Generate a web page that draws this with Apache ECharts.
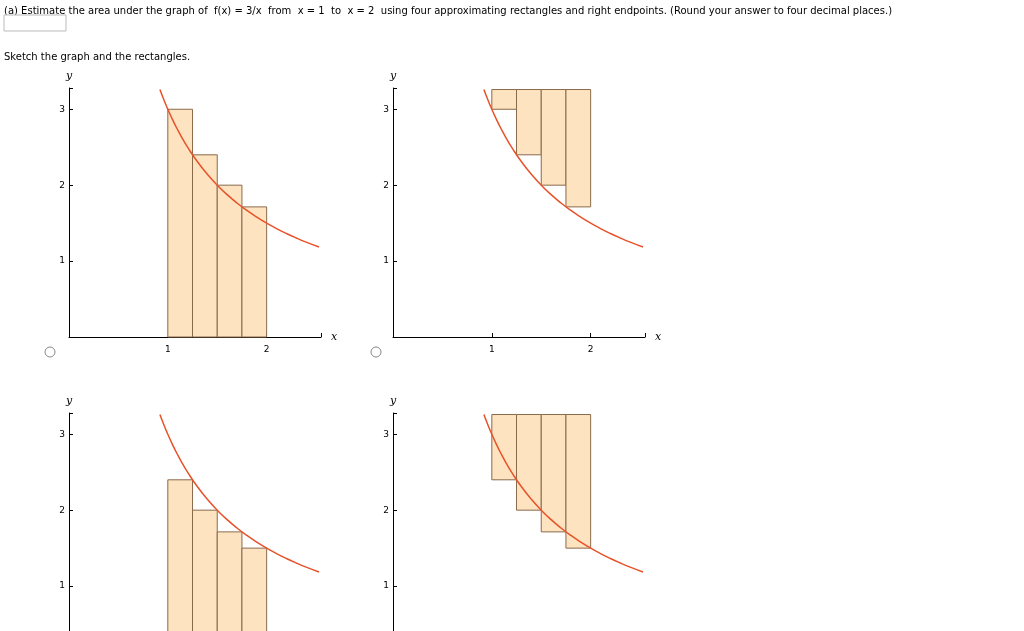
<!DOCTYPE html>
<html>
<head>
<meta charset="utf-8">
<script src="https://cdn.jsdelivr.net/npm/echarts@6/dist/echarts.min.js"></script>
<style>html,body{margin:0;padding:0;background:#fff}#c{width:1024px;height:631px}</style>
</head>
<body>
<div id="c"></div>
<script>
// panel data: [x0, x1, yBottom, yTop]
const rectsA = [[1, 1.25, 0, 3], [1.25, 1.5, 0, 2.4], [1.5, 1.75, 0, 2], [1.75, 2, 0, 1.714]];
const rectsB = [[1, 1.25, 3, 3.26], [1.25, 1.5, 2.4, 3.26], [1.5, 1.75, 2, 3.26], [1.75, 2, 1.714, 3.26]];
const rectsC = [[1, 1.25, 0, 2.4], [1.25, 1.5, 0, 2], [1.5, 1.75, 0, 1.714], [1.75, 2, 0, 1.5]];
const rectsD = [[1, 1.25, 2.4, 3.26], [1.25, 1.5, 2, 3.26], [1.5, 1.75, 1.714, 3.26], [1.75, 2, 1.5, 3.26]];
const curveX = [0.92, 0.95, 1, 1.05, 1.1, 1.15, 1.2, 1.3, 1.4, 1.5, 1.6, 1.7, 1.8, 1.9, 2, 2.1, 2.2, 2.3, 2.4, 2.53];
const curve = curveX.map(x => [x, 3 / x]);
const xTicks = [1, 2];
const yTicks = [1, 2, 3];

const chart = echarts.init(document.getElementById('c'));
const font = 'DejaVu Sans';
const panels = [
  {left: 69, top: 88, rects: rectsA},
  {left: 393, top: 88, rects: rectsB},
  {left: 69, top: 413, rects: rectsC},
  {left: 393, top: 413, rects: rectsD}
];
const grid = [], xAxis = [], yAxis = [], series = [];
panels.forEach((p, i) => {
  grid.push({left: p.left, top: p.top, width: 252, height: 249, outerBoundsMode: 'none', containLabel: false});
  xAxis.push({gridIndex: i, type: 'value', min: 0, max: 2.55, interval: 1,
    axisLine: {lineStyle: {color: '#000'}}, axisTick: {inside: true, length: 4, lineStyle: {color: '#000'}},
    splitLine: {show: false}, name: 'x', nameGap: 10,
    nameTextStyle: {fontStyle: 'italic', fontFamily: 'DejaVu Serif', fontSize: 11, color: '#000'},
    axisLabel: {fontSize: 9, color: '#000', fontFamily: font, formatter: v => xTicks.includes(v) ? v : ''}});
  yAxis.push({gridIndex: i, type: 'value', min: 0, max: 3.28, interval: 1,
    axisLine: {lineStyle: {color: '#000'}}, axisTick: {inside: true, length: 4, lineStyle: {color: '#000'}},
    splitLine: {show: false}, name: 'y', nameGap: 6,
    nameTextStyle: {fontStyle: 'italic', fontFamily: 'DejaVu Serif', fontSize: 11, color: '#000'},
    axisLabel: {fontSize: 9, color: '#000', margin: 4, fontFamily: font, formatter: v => yTicks.includes(v) ? v : ''}});
  series.push({type: 'custom', xAxisIndex: i, yAxisIndex: i, data: p.rects,
    renderItem: (params, api) => {
      const a = api.coord([api.value(0), api.value(3)]);
      const b = api.coord([api.value(1), api.value(2)]);
      return {type: 'rect', shape: {x: a[0], y: a[1], width: b[0] - a[0], height: b[1] - a[1]},
        style: {fill: '#fde3bf', stroke: '#8a6a4c', lineWidth: 1}};
    }});
  series.push({type: 'line', xAxisIndex: i, yAxisIndex: i, data: curve, smooth: true, showSymbol: false,
    lineStyle: {color: '#e8522a', width: 1.5}, z: 5});
});

chart.setOption({
  animation: false,
  grid, xAxis, yAxis, series,
  graphic: [
    {type: 'text', left: 4, top: 6, style: {text: '(a) Estimate the area under the graph of  f(x) = 3/x  from  x = 1  to  x = 2  using four approximating rectangles and right endpoints. (Round your answer to four decimal places.)', font: '10px DejaVu Sans', fill: '#000'}},
    {type: 'rect', shape: {x: 4, y: 15, width: 62, height: 16}, style: {fill: '#fff', stroke: '#bbb'}},
    {type: 'text', left: 4, top: 52, style: {text: 'Sketch the graph and the rectangles.', font: '10px DejaVu Sans', fill: '#000'}},
    {type: 'circle', shape: {cx: 50, cy: 352, r: 5}, style: {fill: '#fff', stroke: '#888'}},
    {type: 'circle', shape: {cx: 376, cy: 352, r: 5}, style: {fill: '#fff', stroke: '#888'}}
  ]
});
</script>
</body>
</html>
